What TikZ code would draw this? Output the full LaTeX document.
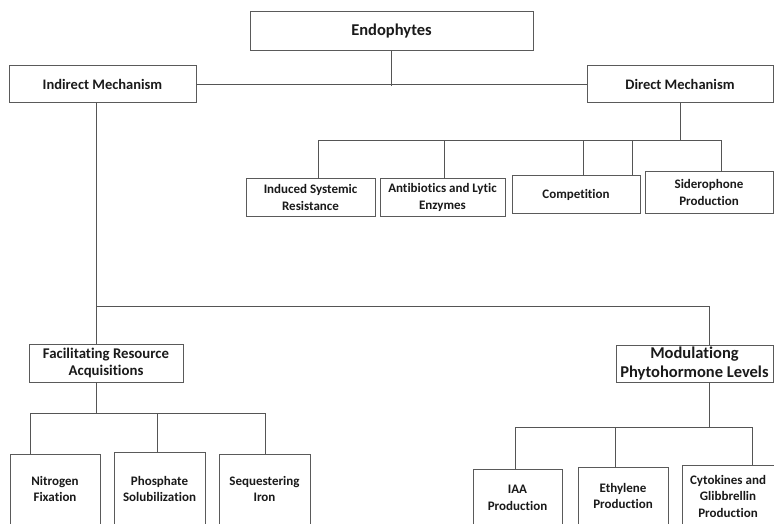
\documentclass[tikz,border=0pt]{standalone}
\usepackage{fontspec}
\setmainfont{Carlito}[Ligatures=NoCommon]
\definecolor{boxc}{HTML}{5A5A5A}
\definecolor{linec}{HTML}{555555}
\definecolor{txtc}{HTML}{1A1A1A}
\begin{document}
\begin{tikzpicture}[x=1pt,y=-1pt,
  box/.style={draw=boxc, line width=1pt, inner sep=0pt, outer sep=0pt, align=center, text=txtc, font=\bfseries\fontsize{13}{16.5}\selectfont},
  bigtext/.style={font=\bfseries\fontsize{16.5}{19}\selectfont},
  midtext/.style={font=\bfseries\fontsize{14.5}{17}\selectfont},
  factext/.style={font=\bfseries\fontsize{14.8}{17.5}\selectfont},
  modtext/.style={font=\bfseries\fontsize{16.5}{18.5}\selectfont},
  txt/.style={align=center, text=txtc, inner sep=0pt, font=\bfseries\fontsize{13}{16.5}\selectfont},
  conn/.style={draw=linec, line width=0.9pt}]
\path[clip] (0,0) rectangle (774,524);
\fill[white] (0,0) rectangle (774,524);

% top level
\node[box, bigtext, minimum width=283, minimum height=39] (endo) at (391.5,31.5) {Endophytes};
\node[box, midtext, minimum width=187, minimum height=37] (ind) at (102.5,84.5) {Indirect Mechanism};
\node[box, midtext, minimum width=186, minimum height=37] (dir) at (680,84.5) {Direct Mechanism};

% direct children
\node[box, minimum width=129, minimum height=37] (isr) at (310.5,197.5) {Induced Systemic\\Resistance};
\node[box, minimum width=125, minimum height=37] (anti) at (442.5,197.5) {Antibiotics and Lytic\\Enzymes};
\node[box, minimum width=128, minimum height=37] (comp) at (576,194.5) {Competition};
\node[box, minimum width=128, minimum height=41] (sid) at (709,192.5) {Siderophone\\Production};

% indirect children
\node[box, factext, minimum width=154, minimum height=38] (fac) at (106,363) {Facilitating Resource\\Acquisitions};
\node[box, modtext, minimum width=157, minimum height=37] (mod) at (694.5,363.5) {Modulationg\\Phytohormone Levels};

% leaves (cut off by the bottom edge)
\node[box, minimum width=90, minimum height=100, anchor=north] (nit) at (55,454) {};
\node[txt] (nitt) at (55,489) {Nitrogen\\Fixation};
\node[box, minimum width=91, minimum height=100, anchor=north] (phos) at (159.5,452) {};
\node[txt] (phost) at (159.5,489) {Phosphate\\Solubilization};
\node[box, minimum width=91, minimum height=100, anchor=north] (seq) at (264.5,454) {};
\node[txt] (seqt) at (264.5,489) {Sequestering\\Iron};

\node[box, minimum width=89, minimum height=100, anchor=north] (iaa) at (517.5,469) {};
\node[txt] (iaat) at (517.5,498) {IAA\\Production};
\node[box, minimum width=90, minimum height=100, anchor=north] (eth) at (623,467) {};
\node[txt] (etht) at (623,496) {Ethylene\\Production};
\node[box, minimum width=92, minimum height=100, anchor=north] (cyt) at (728,465) {};
\node[txt] (cytt) at (728,496) {Cytokines and\\Glibbrellin\\Production};

% connectors: top
\draw[conn] (ind.east) -- (dir.west);
\draw[conn] (endo.south) -- ++(0,35);

% direct mechanism bus
\coordinate (dbus) at (680,140);
\draw[conn] (dir.south) -- (dbus);
\draw[conn] ([xshift=7.5pt]isr.north) |- ([xshift=12pt]sid.north |- dbus) -- ([xshift=12pt]sid.north);
\draw[conn] ([xshift=1.5pt]anti.north) -- ([xshift=1.5pt]anti.north |- dbus);
\draw[conn] ([xshift=7pt]comp.north) -- ([xshift=7pt]comp.north |- dbus);
\draw[conn] ([xshift=56pt]comp.north) -- ([xshift=56pt]comp.north |- dbus);

% indirect mechanism bus
\coordinate (ibus) at (96.5,306);
\draw[conn] ([xshift=-6pt]ind.south) -- ([xshift=-9.5pt]fac.north);
\draw[conn] (ibus) -| ([xshift=14.5pt]mod.north);

% facilitating bus
\coordinate (fbus) at (96.5,413);
\draw[conn] ([xshift=-9.5pt]fac.south) -- (fbus);
\draw[conn] ([xshift=-25pt]nit.north) |- ([xshift=0.5pt]seq.north |- fbus) -- ([xshift=0.5pt]seq.north);
\draw[conn] ([xshift=-2.5pt]phos.north) -- ([xshift=-2.5pt]phos.north |- fbus);

% modulating bus
\coordinate (mbus) at (709,427);
\draw[conn] ([xshift=14.5pt]mod.south) -- (mbus);
\draw[conn] ([xshift=-2.5pt]iaa.north) |- ([xshift=24pt]cyt.north |- mbus) -- ([xshift=24pt]cyt.north);
\draw[conn] ([xshift=-8pt]eth.north) -- ([xshift=-8pt]eth.north |- mbus);
\end{tikzpicture}
\end{document}
